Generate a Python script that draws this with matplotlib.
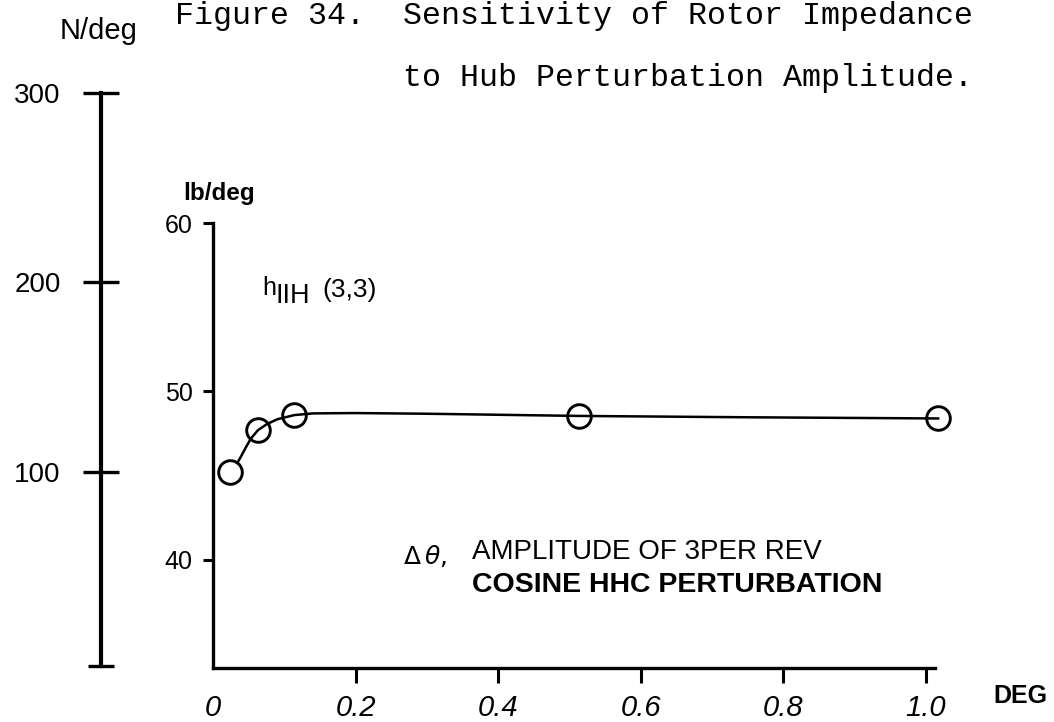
"""Rotor impedance sensitivity to hub perturbation amplitude (Figure 34)."""
import matplotlib
matplotlib.use("Agg")
import matplotlib.pyplot as plt

plt.rcParams.update({
    "font.family": "Liberation Sans",
})

# measured points: 3/rev cosine HHC amplitude (deg) vs impedance (lb/deg)
amp_deg = [0.024, 0.063, 0.114, 0.513, 1.017]
h_lb_per_deg = [45.2, 47.7, 48.6, 48.55, 48.4]

# faired curve through the measurements
fair_amp = [0.034, 0.040, 0.045, 0.053, 0.063, 0.075, 0.090, 0.114, 0.140,
            0.200, 0.300, 0.513, 0.750, 1.017]
fair_h = [45.75, 46.2, 46.6, 47.2, 47.7, 48.05, 48.35, 48.6, 48.7,
          48.72, 48.68, 48.55, 48.47, 48.4]

x_ticks = [0, 0.2, 0.4, 0.6, 0.8, 1.0]
x_ticklabels = ["0", "0.2", "0.4", "0.6", "0.8", "1.0"]
y_ticks = [40, 50, 60]
n_ticks = [100, 200, 300]

W, H = 1054, 722
fig = plt.figure(figsize=(W / 100, H / 100), dpi=100)


def fpos(x, y):
    return x / W, 1 - y / H


# main lb/deg axes
ax = fig.add_axes([213 / W, (H - 668) / H, (935 - 213) / W, (668 - 223) / H])
ax.set_xlim(0, 1.0126)
ax.set_ylim(33.59, 60.0)
for s in ("top", "right"):
    ax.spines[s].set_visible(False)
for s in ("left", "bottom"):
    ax.spines[s].set_linewidth(2.4)
ax.set_xticks(x_ticks)
ax.set_xticklabels(x_ticklabels, fontsize=21, style="italic")
ax.set_yticks(y_ticks)
ax.set_yticklabels([str(v) for v in y_ticks], fontsize=18)
ax.tick_params(axis="x", length=11, width=2.2, pad=8)
ax.tick_params(axis="y", length=7.5, width=2.2, pad=7)
ax.xaxis.get_major_ticks()[0].tick1line.set_visible(False)

ax.plot(fair_amp, fair_h, color="black", lw=1.8, clip_on=False)
ax.plot(amp_deg, h_lb_per_deg, "o", ms=17, mfc="none", mec="black",
        mew=2.1, clip_on=False)

# SI scale on the far left
ax2 = fig.add_axes([101 / W, (H - 666) / H, 0.0001, (666 - 93) / H])
ax2.set_ylim(-2.4, 300)
ax2.patch.set_visible(False)
for s in ("top", "right", "bottom"):
    ax2.spines[s].set_visible(False)
ax2.spines["left"].set_linewidth(3.0)
ax2.set_xticks([])
ax2.set_yticks(n_ticks)
ax2.set_yticklabels([str(v) for v in n_ticks], fontsize=20)
ax2.set_yticks([-2.4], minor=True)
ax2.tick_params(axis="y", which="major", direction="inout", length=26,
                width=2.4, pad=16)
ax2.tick_params(axis="y", which="minor", direction="inout", length=19,
                width=2.4)

# labels and title
fig.text(*fpos(99, 31), "N/deg", fontsize=21, ha="center", va="center")
fig.text(*fpos(183, 200), "lb/deg", fontsize=17.5, fontweight="bold",
         ha="left", va="baseline")
fig.text(*fpos(993, 696), "DEG", fontsize=18, fontweight="bold",
         ha="left", va="center")

# h_IIH (3,3) with a large, spaced subscript
fig.text(*fpos(262, 295), "h", fontsize=18, ha="left", va="baseline")
fig.text(*fpos(275, 303), "IIH", fontsize=19.5, ha="left", va="baseline")
fig.text(*fpos(322, 297), "(3,3)", fontsize=19, ha="left", va="baseline")

fig.text(*fpos(403, 556), r"$\Delta\,\theta$,", fontsize=18,
         family="DejaVu Sans", ha="left", va="center")
fig.text(*fpos(472, 552), "AMPLITUDE OF 3PER REV", fontsize=20,
         ha="left", va="center")
fig.text(*fpos(472, 585), "COSINE HHC PERTURBATION", fontsize=20.5,
         fontweight="bold", ha="left", va="center")

mono = dict(family="Liberation Mono", fontsize=22.8, ha="left", va="baseline")
fig.text(*fpos(175, 24), "Figure 34.  Sensitivity of Rotor Impedance", **mono)
fig.text(*fpos(403, 86), "to Hub Perturbation Amplitude.", **mono)

fig.savefig("out.png", dpi=100)
